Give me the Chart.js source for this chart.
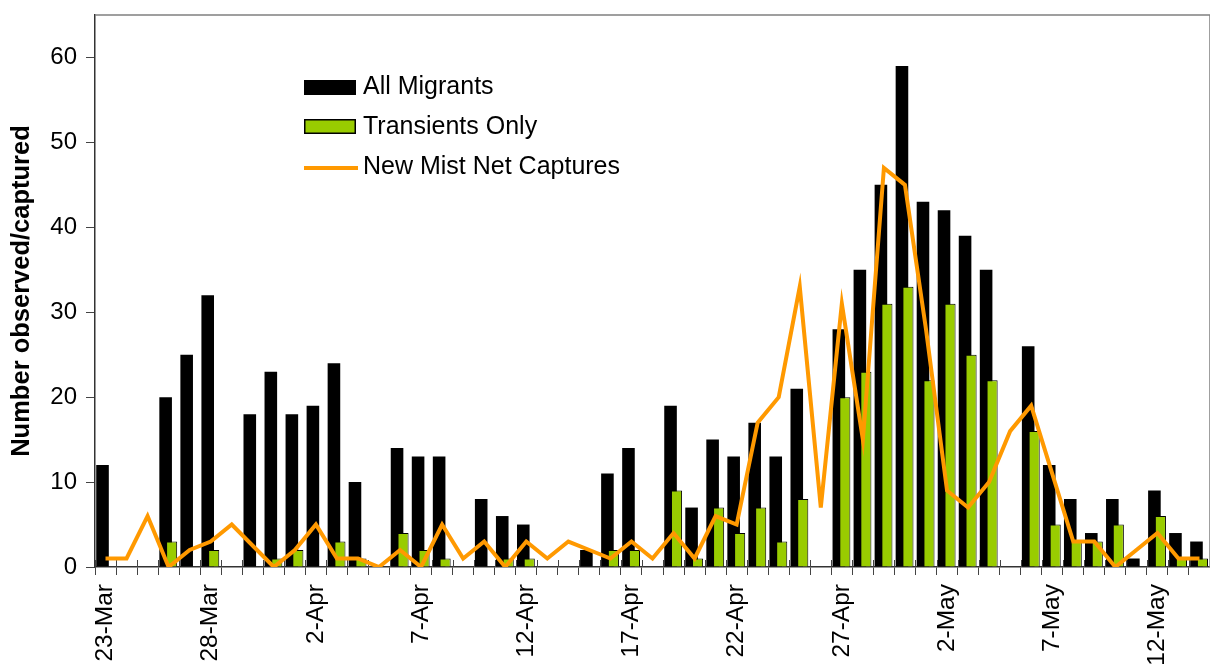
<!DOCTYPE html>
<html>
<head>
<meta charset="utf-8">
<script src="https://cdn.jsdelivr.net/npm/chart.js@4.4.1/dist/chart.umd.min.js"></script>
<style>
  html, body { margin: 0; padding: 0; background: #fff; }
  #wrap { width: 1210px; height: 667px; }
</style>
</head>
<body>
<div id="wrap"><canvas id="migrationChart" width="1210" height="667"></canvas></div>
<script>
const dates = [
  '23-Mar', '24-Mar', '25-Mar', '26-Mar', '27-Mar', '28-Mar', '29-Mar', '30-Mar', '31-Mar',
  '1-Apr', '2-Apr', '3-Apr', '4-Apr', '5-Apr', '6-Apr', '7-Apr', '8-Apr', '9-Apr', '10-Apr',
  '11-Apr', '12-Apr', '13-Apr', '14-Apr', '15-Apr', '16-Apr', '17-Apr', '18-Apr', '19-Apr', '20-Apr',
  '21-Apr', '22-Apr', '23-Apr', '24-Apr', '25-Apr', '26-Apr', '27-Apr', '28-Apr', '29-Apr', '30-Apr',
  '1-May', '2-May', '3-May', '4-May', '5-May', '6-May', '7-May', '8-May', '9-May', '10-May',
  '11-May', '12-May', '13-May', '14-May'
];

// null = no count that day
const allMigrants = [
  12, null, null, 20, 25, 32, null, 18, 23,
  18, 19, 24, 10, null, 14, 13, 13, null, 8,
  6, 5, null, null, 2, 11, 14, null, 19, 7,
  15, 13, 17, 13, 21, null, 28, 35, 45, 59,
  43, 42, 39, 35, null, 26, 12, 8, 4, 8,
  1, 9, 4, 3
];

const transientsOnly = [
  null, null, null, 3, null, 2, null, null, 1,
  2, null, 3, 1, null, 4, 2, 1, null, null,
  1, 1, null, null, null, 2, 2, null, 9, 1,
  7, 4, 7, 3, 8, null, 20, 23, 31, 33,
  22, 31, 25, 22, null, 16, 5, 3, 3, 5,
  null, 6, 1, 1
];

const newCaptures = [
  1, 1, 6, 0, 2, 3, 5, null, 0,
  2, 5, 1, 1, 0, 2, 0, 5, 1, 3,
  0, 3, 1, 3, 2, 1, 3, 1, 4, 1,
  6, 5, 17, 20, 33, 7, 31, 15, 47, 45,
  28, 9, 7, 10, 16, 19, 11, 3, 3, 0,
  2, 4, 1, 1
];

const yTicks = [0, 10, 20, 30, 40, 50, 60];

const FONT = "'Liberation Sans', Arial, sans-serif";

// black bars sit behind the green ones, like the Excel overlap
const barLayering = {
  id: 'barLayering',
  beforeDatasetsDraw(chart) {
    const meta = chart.getDatasetMeta(1);
    if (meta.visible) meta.controller.draw();
  },
  beforeDatasetDraw(chart, args) {
    if (args.index === 1) return false;
  }
};

const frameAndTicks = {
  id: 'frameAndTicks',
  beforeDatasetsDraw(chart) {
    const { ctx, chartArea: a } = chart;
    const xs = chart.scales.x;
    ctx.save();
    ctx.strokeStyle = '#808080';
    ctx.lineWidth = 1.5;
    ctx.beginPath();
    ctx.moveTo(a.left, a.top);
    ctx.lineTo(a.right, a.top);
    ctx.lineTo(a.right, a.bottom);
    ctx.stroke();
    // short tick marks poking up into the plot
    const half = (xs.getPixelForValue(1) - xs.getPixelForValue(0)) / 2;
    ctx.strokeStyle = '#444';
    ctx.lineWidth = 1;
    ctx.beginPath();
    for (let i = 0; i <= dates.length; i++) {
      const x = Math.round(xs.getPixelForValue(i) - half) + 0.5;
      ctx.moveTo(x, a.bottom - 7);
      ctx.lineTo(x, a.bottom);
    }
    ctx.stroke();
    ctx.restore();
  }
};

const boxLegend = {
  id: 'boxLegend',
  afterDraw(chart) {
    const ctx = chart.ctx;
    const ds = chart.data.datasets;
    ctx.save();
    ctx.font = '25px ' + FONT;
    ctx.textBaseline = 'middle';

    // All Migrants
    ctx.fillStyle = ds[1].backgroundColor;
    ctx.fillRect(304, 80, 52, 15);
    // Transients Only
    ctx.fillStyle = ds[2].backgroundColor;
    ctx.fillRect(304, 119, 52, 15);
    ctx.strokeStyle = '#000';
    ctx.lineWidth = 1.5;
    ctx.strokeRect(304.75, 119.75, 50.5, 13.5);
    // New Mist Net Captures
    ctx.strokeStyle = ds[0].borderColor;
    ctx.lineWidth = 4;
    ctx.beginPath();
    ctx.moveTo(304, 168);
    ctx.lineTo(358, 168);
    ctx.stroke();

    ctx.fillStyle = '#000';
    ctx.fillText(ds[1].label, 363, 87);
    ctx.fillText(ds[2].label, 363, 127);
    ctx.fillText(ds[0].label, 363, 167);
    ctx.restore();
  }
};

new Chart(document.getElementById('migrationChart'), {
  type: 'bar',
  data: {
    labels: dates,
    datasets: [
      {
        type: 'line',
        label: 'New Mist Net Captures',
        data: newCaptures,
        borderColor: '#FF9900',
        borderWidth: 4,
        pointRadius: 0,
        tension: 0,
        spanGaps: true,
        order: 0
      },
      {
        label: 'All Migrants',
        data: allMigrants,
        backgroundColor: '#000000',
        borderWidth: 0,
        categoryPercentage: 0.57,
        barPercentage: 2.1,
        order: 1
      },
      {
        label: 'Transients Only',
        data: transientsOnly,
        backgroundColor: '#99CC00',
        borderColor: '#000000',
        borderWidth: 1,
        categoryPercentage: 0.57,
        barPercentage: 1.85,
        order: 2
      }
    ]
  },
  options: {
    responsive: false,
    animation: false,
    layout: { padding: { top: 15, right: -2, left: 0, bottom: 0 } },
    plugins: {
      legend: { display: false },
      tooltip: { enabled: false }
    },
    scales: {
      x: {
        offset: true,
        grid: { drawOnChartArea: false, offset: true, tickLength: 8, color: '#444' },
        border: { color: '#333', width: 1.5 },
        ticks: {
          autoSkip: false,
          minRotation: 90,
          maxRotation: 90,
          padding: 9,
          color: '#000',
          font: { family: FONT, size: 24.5 },
          callback: (v, i) => (i % 5 === 0 ? dates[i] : '')
        },
        afterFit: s => {
          s.height = 100;
          s.paddingLeft = 0;
          s.paddingRight = 0;
        }
      },
      y: {
        min: 0,
        max: 65,
        afterBuildTicks: s => { s.ticks = yTicks.map(v => ({ value: v })); },
        grid: { drawOnChartArea: false, tickLength: 9, color: '#444' },
        border: { color: '#333', width: 1.5 },
        ticks: {
          padding: 9,
          color: '#000',
          font: { family: FONT, size: 24 }
        },
        title: {
          display: true,
          text: 'Number observed/captured',
          color: '#000',
          font: { family: FONT, size: 25.5, weight: 'bold' },
          padding: { top: 7, bottom: 0 }
        },
        afterFit: s => {
          s.width = 95;
          s.paddingTop = 0;
          s.paddingBottom = 0;
        }
      }
    }
  },
  plugins: [barLayering, frameAndTicks, boxLegend]
});
</script>
</body>
</html>
